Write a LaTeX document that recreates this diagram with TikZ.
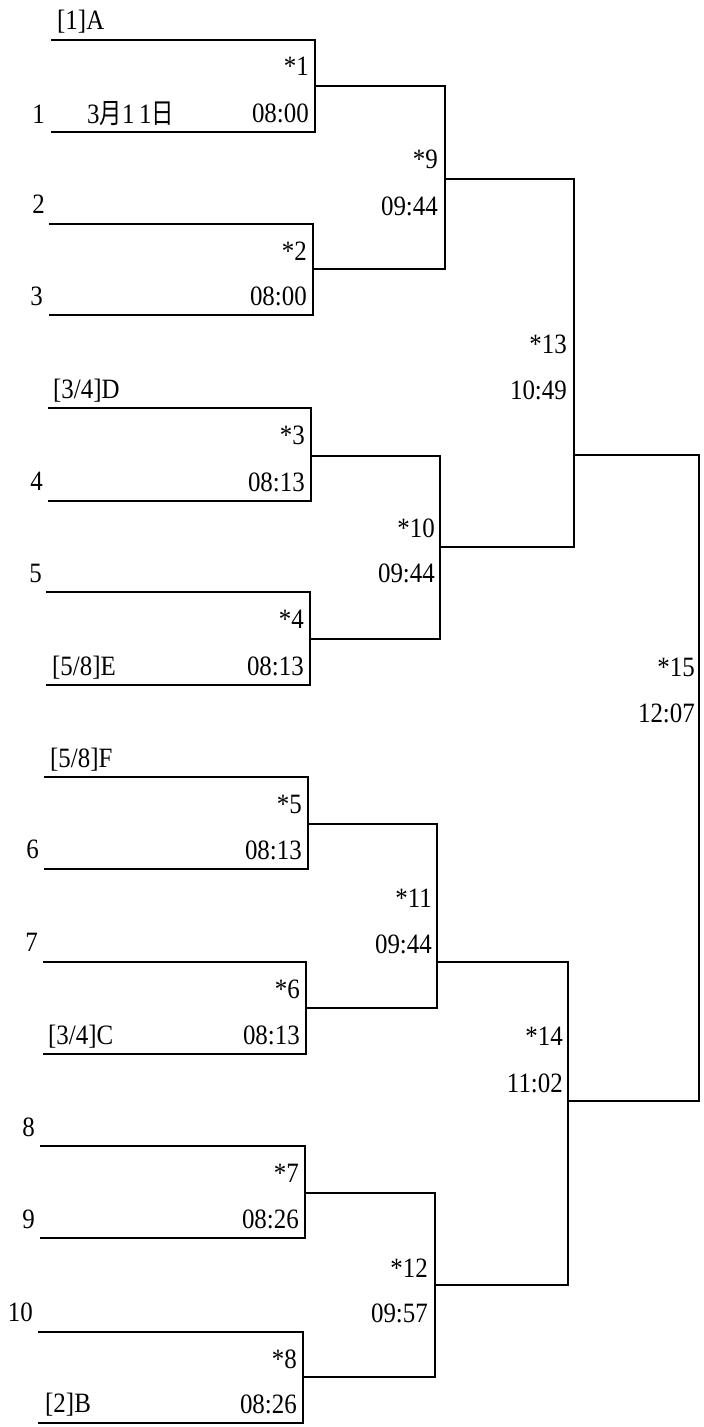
\documentclass[tikz,border=0pt]{standalone}
\usepackage{fontspec}
\setmainfont{Liberation Serif}[FakeStretch=0.89]
\newfontfamily\cjk{Noto Sans CJK TC}[FakeStretch=0.8]
\begin{document}
\begin{tikzpicture}[x=1pt,y=-1pt,
  br/.style={draw, line width=2pt},
  lbl/.style={inner sep=0pt, font=\fontsize{28}{30}\selectfont},
  rlbl/.style={lbl, anchor=base east},
  llbl/.style={lbl, anchor=base west}]
\useasboundingbox (0,0) rectangle (704,1427);
% first round brackets
\foreach \i/\l/\v/\t/\b/\o/\tm in {
  1/51/315/39.5/132/86/08:00,
  2/49/313/224/315/269/08:00,
  3/48/311/408/501/456/08:13,
  4/46/310/592/685/639/08:13,
  5/44/308/777/869/824/08:13,
  6/43/306/962/1054/1008/08:13,
  7/40/305/1146/1238/1193/08:26,
  8/38/303/1332/1423/1377/08:26}{
  \coordinate (t\i) at (\l,\t);
  \coordinate (b\i) at (\l,\b);
  \coordinate (o\i) at (\v,\o);
  \draw[br] (t\i) -| (o\i) |- (b\i);
  \node[rlbl] (s\i) at ({\v-6},{\t+36}) {*\i};
  \node[rlbl] (m\i) at ({\v-6},{\b-10}) {\tm};
}
% later rounds
\coordinate (o9) at (445,178.5);
\coordinate (o10) at (440,547);
\coordinate (o11) at (437,962);
\coordinate (o12) at (435,1285);
\coordinate (o13) at (574,455);
\coordinate (o14) at (568,1101);
\coordinate (o15) at (699,778);
\draw[br] (o1) -| (o9) |- (o2);
\draw[br] (o3) -| (o10) |- (o4);
\draw[br] (o5) -| (o11) |- (o6);
\draw[br] (o7) -| (o12) |- (o8);
\draw[br] (o9) -| (o13) |- (o10);
\draw[br] (o11) -| (o14) |- (o12);
\draw[br] (o13) -| (o15) |- (o14);
% match labels
\node[rlbl] (s9) at (438,168) {*9};
\node[rlbl] (m9) at (438,215) {09:44};
\node[rlbl] (s10) at (435,537) {*10};
\node[rlbl] (m10) at (435,582) {09:44};
\node[rlbl] (s11) at (432,907) {*11};
\node[rlbl] (m11) at (432,953) {09:44};
\node[rlbl] (s12) at (428,1277) {*12};
\node[rlbl] (m12) at (428,1322) {09:57};
\node[rlbl] (s13) at (567,353) {*13};
\node[rlbl] (m13) at (567,399) {10:49};
\node[rlbl] (s14) at (563,1045) {*14};
\node[rlbl] (m14) at (563,1092) {11:02};
\node[rlbl] (s15) at (695,676) {*15};
\node[rlbl] (m15) at (695,722) {12:07};
% entrants
\node[llbl] (eA) at (57,29.5) {[1]A};
\node[rlbl] (e1) at (45,123) {1};
\node[llbl] (date) at (87,123) {3{\cjk 月}1\,1{\cjk 日}};
\node[rlbl] (e2) at (45,213) {2};
\node[rlbl] (e3) at (43,305) {3};
\node[llbl] (eD) at (53,398) {[3/4]D};
\node[rlbl] (e4) at (43,490) {4};
\node[rlbl] (e5) at (42,582) {5};
\node[llbl] (eE) at (52,675) {[5/8]E};
\node[llbl] (eF) at (50,767) {[5/8]F};
\node[rlbl] (e6) at (39,858) {6};
\node[rlbl] (e7) at (38,951) {7};
\node[llbl] (eC) at (48,1044) {[3/4]C};
\node[rlbl] (e8) at (35,1136) {8};
\node[rlbl] (e9) at (35,1228) {9};
\node[rlbl] (e10) at (33,1321) {10};
\node[llbl] (eB) at (45,1412) {[2]B};
\end{tikzpicture}
\end{document}
